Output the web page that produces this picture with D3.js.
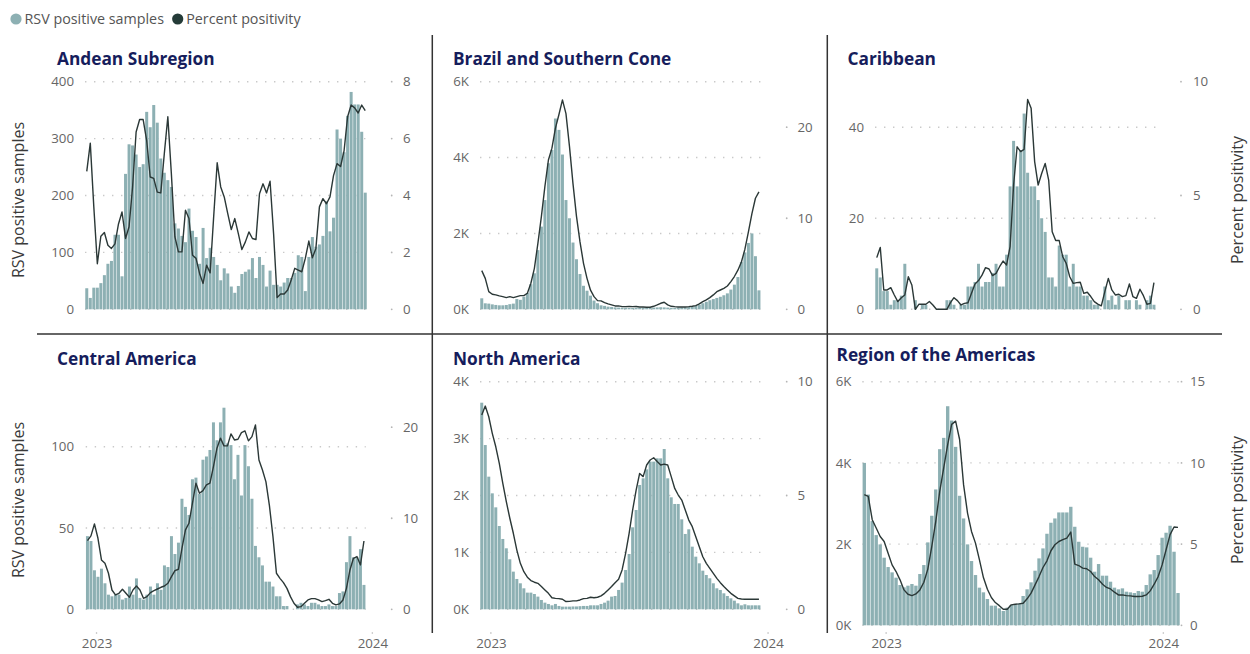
<!DOCTYPE html>
<html>
<head>
<meta charset="utf-8">
<script src="https://cdn.jsdelivr.net/npm/d3@7"></script>
<style>
  body { margin: 0; background: #fff; }
  svg { font-family: "Segoe UI", "Open Sans", sans-serif; }
</style>
</head>
<body>
<div id="chart"></div>
<script>
  /* Data: weekly RSV positive samples and percent positivity */
  var weeks = d3.range(80);
  var yearLabels = ["2023", "2024"];

  var andeanSamples = [37,20,38,38,46,60,80,85,131,131, 58,238,290,288,272,250,255,347,320,359,
    328,265,240,227,215,151,142,129,118,177, 138,127,80,143,90,108,92,78,51,72,
    63,40,29,41,62,66,70,90,55,92, 78,40,68,43,43,40,47,55,55,64,
    95,92,32,92,127,110,114,129,190,137, 161,316,300,276,340,382,360,360,312,205];
  var andeanPositivity = [4.85,5.84,3.6,1.6,2.57,2.7,2.25,2.14,2.3,3.0, 3.42,2.49,2.9,4.3,6.23,6.67,6.67,5.93,4.65,4.6,
    4.12,4.09,5.47,6.77,4.77,2.55,2.02,2.02,3.48,3.19, 1.9,1.79,1.26,0.91,1.55,1.28,3.25,5.15,4.3,3.95,
    3.36,2.8,3.19,2.66,2.1,2.37,2.72,2.49,2.45,4.06, 4.41,4.09,4.5,2.66,0.41,0.54,0.54,0.68,1.03,1.44,
    1.38,1.32,1.79,2.4,1.81,2.14,3.6,3.89,3.71,3.95, 4.7,5.12,5.02,5.58,6.77,7.18,7.08,6.9,7.18,6.98];

  var brazilSamples = [290,158,150,130,115,105,105,114,135,150, 270,250,330,430,660,950,1560,2180,2880,3850,
    4200,5030,4730,4080,2880,2400,1760,1320,930,620, 490,360,230,160,105,90,70,60,50,45,
    40,40,35,35,40,40,45,40,40,45, 50,55,50,45,40,40,45,50,55,60,
    70,90,120,160,200,240,270,300,330,370, 420,520,650,850,1250,1500,1750,2000,1400,500];
  var brazilPositivity = [4.25,3.4,1.94,1.65,1.58,1.47,1.39,1.28,1.39,1.28, 1.4,1.5,1.5,1.76,2.86,4.5,7.25,10.2,13.5,16.4,
    17.7,19.9,21.4,23.0,21.5,17.9,13.8,10.2,7.4,5.05, 3.4,2.1,1.39,0.95,0.92,0.73,0.59,0.48,0.37,0.37,
    0.29,0.29,0.3,0.29,0.3,0.26,0.26,0.22,0.22,0.33, 0.48,0.66,0.77,0.48,0.33,0.29,0.26,0.26,0.26,0.29,
    0.33,0.4,0.59,0.84,1.03,1.28,1.58,1.94,2.12,2.3, 2.56,3.04,3.6,4.3,5.2,6.6,8.5,10.5,12.2,12.9];

  var caribbeanSamples = [9,7,4,4,1,2,2,3,10,0, 0,2,0,1,1,0,0,0,0,0,
    2,2,1,0,1,1,5,5,6,10, 5,6,6,8,10,5,5,12,27,37,
    27,35,43,30,27,27,24,20,17,7, 7,5,14,12,12,5,10,5,5,3,
    3,2,1,1,0,5,2,3,1,3, 0,2,2,0,2,1,0,2,3,1];
  var caribbeanPositivity = [2.27,2.72,0.85,0.85,0.95,0.63,0.34,0.51,0.63,1.43, 1.07,0.0,0.22,0.22,0.22,0.34,0.19,0,0,0,
    0,0.29,0.51,0.38,0.19,0.26,0.29,0.7,1.11,1.26, 1.5,1.83,1.77,1.48,1.58,1.87,2.12,1.95,2.75,5.46,
    7.14,6.93,7.03,9.22,8.83,6.49,5.46,5.97,6.41,5.68, 3.41,3.02,3.02,2.31,2.02,1.43,1.14,1.17,1.19,0.7,
    0.75,0.56,0.34,0.23,0.15,0.78,1.36,0.85,0.63,0.66, 0.56,0.6,1.11,0.56,0.48,0.88,0.6,0.22,0.26,1.17];

  var centralSamples = [45,42,24,20,25,16,9,8,9,9, 6,7,14,9,19,7,6,9,14,9,
    16,12,27,26,45,34,41,68,63,58, 80,81,71,92,94,98,115,104,115,124,
    102,101,80,95,70,101,88,68,39,32, 27,17,17,14,8,8,2,2,0,0,
    3,4,3,2,4,4,3,2,2,3, 2,2,10,11,29,45,32,32,37,15];
  var centralPositivity = [7.55,8.06,9.38,7.8,5.42,5.05,3.96,2.12,1.58,1.76, 2.2,1.76,1.32,2.12,2.56,2.12,1.21,1.39,1.83,2.05,
    2.23,2.42,2.56,2.86,3.59,4.25,4.4,6.7,8.72,9.45, 11.65,13.85,12.75,13.04,13.66,13.85,15.68,17.7,18.8,17.95,
    17.95,19.27,18.6,18.68,19.41,19.6,18.5,18.97,20.26,16.4, 15.3,14.0,11.36,7.99,3.96,3.4,2.93,2.3,1.39,0.66,
    0.22,0.29,0.66,1.03,1.17,1.17,1.03,0.84,0.95,1.1, 0.66,0.48,0.59,1.03,2.3,4.32,5.6,5.79,4.87,7.5];

  var northSamples = [3631,2887,2331,2038,1792,1464,1236,1072,879,662, 533,457,369,293,293,269,223,164,117,94,
    70,94,59,47,47,47,50,50,55,59, 59,70,70,70,94,117,152,223,234,340,
    469,691,972,1441,1745,2185,2302,2460,2595,2595, 2653,2653,2817,2302,1968,1851,1851,1581,1324,1406,
    1101,925,808,679,603,545,457,369,340,281, 234,193,152,105,70,88,70,70,70,70];
  var northPositivity = [8.54,8.93,8.46,7.73,7.14,6.41,5.53,4.73,4.0,3.34, 2.6,2.02,1.65,1.41,1.26,1.19,1.14,1.0,0.85,0.7,
    0.51,0.48,0.47,0.44,0.34,0.35,0.37,0.37,0.41,0.47, 0.48,0.53,0.51,0.53,0.59,0.7,0.85,1.0,1.17,1.32,
    1.73,2.46,3.34,4.36,5.24,5.97,5.83,6.34,6.56,6.66, 6.49,6.34,6.38,6.34,5.83,5.31,5.02,4.8,4.36,3.92,
    3.63,3.19,2.75,2.31,2.02,1.8,1.58,1.36,1.17,1.0, 0.85,0.7,0.59,0.48,0.45,0.44,0.44,0.44,0.44,0.44];

  var americasSamples = [4000,3220,2567,2222,1993,1665,1435,1304,1173,992, 935,976,1017,976,1263,1484,2042,2698,3346,4338,
    4617,5396,5043,4395,3190,2632,1993,1583,1238,927, 812,648,484,484,418,353,435,500,500,541,
    722,886,1058,1345,1648,1894,2255,2526,2632,2780, 2780,2780,2919,2427,2058,1935,1919,1665,1320,1509,
    1222,1222,1074,927,886,910,828,812,795,845, 828,992,1255,1361,1730,2157,2280,2452,1812,795];
  var americasPositivity = [8.05,7.94,6.5,5.99,5.47,5.16,4.44,3.72,3.31,2.8, 2.18,1.91,1.83,1.93,2.18,2.65,3.46,4.86,6.4,8.25,
    9.69,11.13,12.37,12.57,11.44,8.66,6.91,5.78,5.06,4.03, 2.94,2.22,1.71,1.4,1.21,0.99,0.99,1.26,1.3,1.32,
    1.36,1.63,1.98,2.49,3.0,3.56,3.97,4.59,4.96,5.16, 5.27,5.37,5.74,3.77,3.68,3.52,3.48,3.31,3.0,2.8,
    2.53,2.33,2.24,2.04,1.87,1.87,1.83,1.81,1.77,1.77, 1.79,1.87,2.12,2.53,3.0,3.72,4.65,5.58,6.05,6.03];

  var width = 1250;
  var height = 654;
  var barColor = "#8db0b3";
  var lineColor = "#2b3837";
  var titleColor = "#161d5c";
  var tickColor = "#666";

  var kFormat = d => (d / 1000) + "K";
  var plain = d => d;

  var panels = [
    {title: "Andean Subregion", samples: andeanSamples, positivity: andeanPositivity,
     x0: 85, x1: 367, y0: 81.7, y1: 309.3, titleX: 57, titleY: 59,
     leftMax: 400, leftTicks: [0, 100, 200, 300, 400], leftFmt: plain, leftLabelX: 74,
     rightMax: 8, rightTicks: [0, 2, 4, 6, 8], rightDotX: 391.7, rightLabelX: 403},
    {title: "Brazil and Southern Cone", samples: brazilSamples, positivity: brazilPositivity,
     x0: 480, x1: 760.7, y0: 81.7, y1: 309.3, titleX: 453, titleY: 59,
     leftMax: 6000, leftTicks: [0, 2000, 4000, 6000], leftFmt: kFormat, leftLabelX: 469,
     rightMax: 25, rightTicks: [0, 10, 20], rightDotX: 786.7, rightLabelX: 797.5},
    {title: "Caribbean", samples: caribbeanSamples, positivity: caribbeanPositivity,
     x0: 875, x1: 1155.7, y0: 81.7, y1: 309.3, titleX: 847.5, titleY: 59,
     leftMax: 50, leftTicks: [0, 20, 40], leftFmt: plain, leftLabelX: 864,
     rightMax: 10, rightTicks: [0, 5, 10], rightDotX: 1181, rightLabelX: 1193},
    {title: "Central America", samples: centralSamples, positivity: centralPositivity,
     x0: 85.7, x1: 365.7, y0: 381.7, y1: 609.3, titleX: 57, titleY: 359,
     leftMax: 140, leftTicks: [0, 50, 100], leftFmt: plain, leftLabelX: 74,
     rightMax: 25, rightTicks: [0, 10, 20], rightDotX: 391.7, rightLabelX: 403,
     yearAt: [2.6, 81.4]},
    {title: "North America", samples: northSamples, positivity: northPositivity,
     x0: 480, x1: 760.7, y0: 381.7, y1: 609.3, titleX: 453, titleY: 359,
     leftMax: 4000, leftTicks: [0, 1000, 2000, 3000, 4000], leftFmt: kFormat, leftLabelX: 469,
     rightMax: 10, rightTicks: [0, 5, 10], rightDotX: 786.7, rightLabelX: 797.5,
     yearAt: [2.6, 81.6]},
    {title: "Region of the Americas", samples: americasSamples, positivity: americasPositivity,
     x0: 862.3, x1: 1180, y0: 381.7, y1: 625.3, titleX: 836.5, titleY: 355,
     leftMax: 6000, leftTicks: [0, 2000, 4000, 6000], leftFmt: kFormat, leftLabelX: 851.5,
     rightMax: 15, rightTicks: [0, 5, 10, 15], rightDotX: 1181.5, rightLabelX: 1190,
     yearAt: [5.5, 75.3]}
  ];

  var svg = d3.select("#chart").append("svg")
    .attr("width", width)
    .attr("height", height);

  /* Legend */
  var legendItems = [
    {label: "RSV positive samples", color: barColor, x: 16},
    {label: "Percent positivity", color: "#243b38", x: 177.7}
  ];
  var legend = svg.selectAll(".legend")
    .data(legendItems).enter()
    .append("g")
    .attr("class", "legend")
    .attr("transform", d => `translate(${d.x}, 19)`);
  legend.append("circle").attr("r", 5.6).attr("fill", d => d.color);
  legend.append("text")
    .attr("x", 8.5)
    .attr("dy", "0.35em")
    .style("font-size", "14.3px")
    .attr("fill", "#555")
    .text(d => d.label);

  /* Dividers between panels */
  var dividers = [
    {x1: 432.3, y1: 35, x2: 432.3, y2: 633},
    {x1: 827.3, y1: 35, x2: 827.3, y2: 633},
    {x1: 37, y1: 334, x2: 1222, y2: 334}
  ];
  svg.selectAll(".divider")
    .data(dividers).enter()
    .append("line")
    .attr("x1", d => d.x1).attr("y1", d => d.y1)
    .attr("x2", d => d.x2).attr("y2", d => d.y2)
    .attr("stroke", "#333")
    .attr("stroke-width", 1.5);

  /* Axis titles */
  var axisTitles = [
    {text: "RSV positive samples", x: 18, y: 200},
    {text: "RSV positive samples", x: 18, y: 500},
    {text: "Percent positivity", x: 1237, y: 200},
    {text: "Percent positivity", x: 1237, y: 500}
  ];
  svg.selectAll(".axis-title")
    .data(axisTitles).enter()
    .append("text")
    .attr("class", "axis-title")
    .attr("transform", d => `translate(${d.x}, ${d.y}) rotate(-90)`)
    .attr("text-anchor", "middle")
    .attr("dy", "0.35em")
    .style("font-size", "16px")
    .attr("fill", "#3a3a3a")
    .text(d => d.text);

  panels.forEach(drawPanel);

  function drawPanel(p) {
    var g = svg.append("g");

    var x = d3.scaleBand()
      .domain(weeks)
      .range([p.x0, p.x1])
      .paddingInner(0.15)
      .paddingOuter(0.075);
    var xPos = d3.scaleLinear()
      .domain([-0.5, weeks.length - 0.5])
      .range([p.x0, p.x1]);
    var yLeft = d3.scaleLinear().domain([0, p.leftMax]).range([p.y1, p.y0]);
    var yRight = d3.scaleLinear().domain([0, p.rightMax]).range([p.y1, p.y0]);

    /* dotted gridlines */
    g.selectAll(".grid")
      .data(p.leftTicks).enter()
      .append("line")
      .attr("x1", p.x0).attr("x2", p.x1)
      .attr("y1", d => yLeft(d)).attr("y2", d => yLeft(d))
      .attr("stroke", "#c9c9c9")
      .attr("stroke-width", 1.4)
      .attr("stroke-dasharray", "1.4,7.6");

    /* left axis */
    var leftAxis = d3.axisLeft(yLeft)
      .tickValues(p.leftTicks)
      .tickSize(0)
      .tickPadding(0)
      .tickFormat(p.leftFmt);
    g.append("g")
      .attr("transform", `translate(${p.leftLabelX}, 0)`)
      .call(leftAxis)
      .attr("font-family", null)
      .call(a => a.select(".domain").remove())
      .selectAll("text")
      .attr("fill", tickColor)
      .style("font-size", "13.3px");

    /* right axis */
    var rightAxis = d3.axisRight(yRight)
      .tickValues(p.rightTicks)
      .tickSize(0)
      .tickPadding(0);
    g.append("g")
      .attr("transform", `translate(${p.rightLabelX}, 0)`)
      .call(rightAxis)
      .attr("font-family", null)
      .call(a => a.select(".domain").remove())
      .selectAll("text")
      .attr("fill", tickColor)
      .style("font-size", "13.3px");

    g.selectAll(".rdot")
      .data(p.rightTicks).enter()
      .append("circle")
      .attr("cx", p.rightDotX)
      .attr("cy", d => yRight(d))
      .attr("r", 0.9)
      .attr("fill", "#b5b5b5");

    /* bars */
    g.selectAll(".bar")
      .data(p.samples).enter()
      .append("rect")
      .attr("class", "bar")
      .attr("x", (d, i) => x(i))
      .attr("width", x.bandwidth())
      .attr("y", d => yLeft(d))
      .attr("height", d => yLeft(0) - yLeft(d))
      .attr("fill", barColor);

    /* percent positivity line */
    var line = d3.line()
      .x((d, i) => x(i) + x.bandwidth() / 2)
      .y(d => yRight(d));
    g.append("path")
      .datum(p.positivity)
      .attr("d", line)
      .attr("fill", "none")
      .attr("stroke", lineColor)
      .attr("stroke-width", 1.4)
      .attr("stroke-linejoin", "round");

    /* title */
    g.append("text")
      .attr("x", p.titleX)
      .attr("y", p.titleY)
      .attr("dy", "0.35em")
      .style("font-size", "17.3px")
      .style("font-weight", "bold")
      .attr("fill", titleColor)
      .text(p.title);

    /* year labels on the bottom row */
    if (p.yearAt) {
      var xAxis = d3.axisBottom(xPos)
        .tickValues(p.yearAt)
        .tickSize(0)
        .tickPadding(6)
        .tickFormat((d, i) => yearLabels[i]);
      g.append("g")
        .attr("transform", "translate(0, 633)")
        .call(xAxis)
        .attr("font-family", null)
        .call(a => a.select(".domain").remove())
        .selectAll("text")
        .attr("fill", tickColor)
        .style("font-size", "13.3px");
      g.selectAll(".ydot")
        .data(p.yearAt).enter()
        .append("circle")
        .attr("cx", d => xPos(d))
        .attr("cy", 633)
        .attr("r", 0.8)
        .attr("fill", "#b5b5b5");
    }
  }
</script>
</body>
</html>
